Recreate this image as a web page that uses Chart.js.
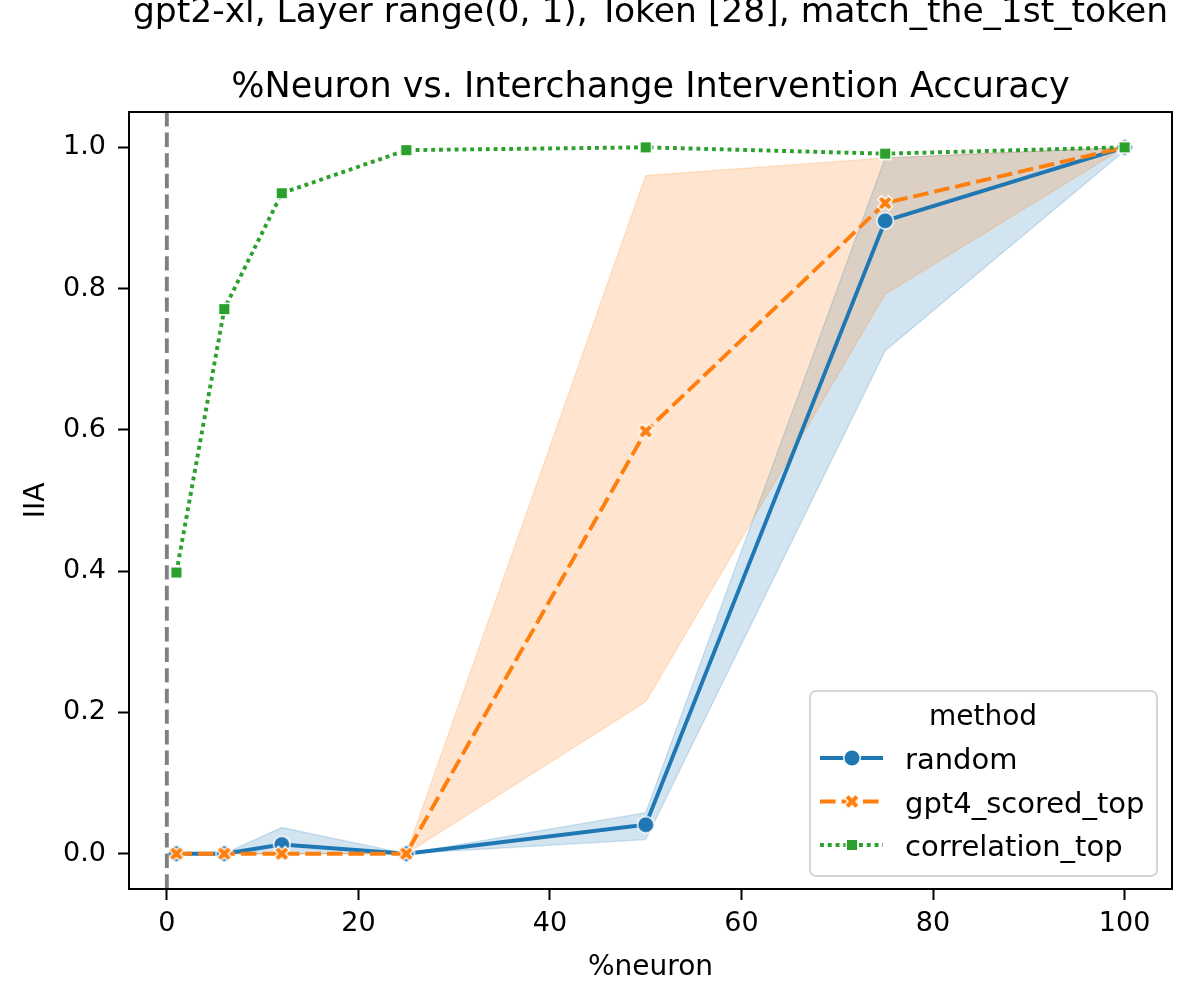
<!DOCTYPE html>
<html>
<head>
<meta charset="utf-8">
<script src="https://cdn.jsdelivr.net/npm/chart.js@4.4.1/dist/chart.umd.min.js"></script>
<style>
html, body { margin: 0; padding: 0; background: #fff; }
canvas { display: block; }
</style>
</head>
<body>
<canvas id="myChart" width="1196" height="1001"></canvas>
<script>
// Texts
let suptitle = "gpt2-xl, Layer range(0, 1), Token [28], match_the_1st_token";
let title = "%Neuron vs. Interchange Intervention Accuracy";
let xLabel = "%neuron";
let yLabel = "IIA";
let legendTitle = "method";

// Data
let neuronPct = [1, 6, 12, 25, 50, 75, 100];
let xTicks = [0, 20, 40, 60, 80, 100];
let yTicks = [0, 0.2, 0.4, 0.6, 0.8, 1.0];
let refLineX = 0;

let randomIIA  = [0, 0, 0.013, 0, 0.041, 0.896, 1.0];
let randomLow  = [0, 0, 0,     0, 0.020, 0.712, 0.995];
let randomHigh = [0, 0, 0.037, 0, 0.058, 0.985, 1.0];

let gpt4IIA  = [0, 0, 0, 0, 0.598, 0.921, 1.0];
let gpt4Low  = [0, 0, 0, 0, 0.215, 0.792, 1.0];
let gpt4High = [0, 0, 0, 0, 0.960, 0.985, 1.0];

let corrIIA = [0.398, 0.771, 0.935, 0.996, 1.0, 0.991, 1.0];

let methods = ["random", "gpt4_scored_top", "correlation_top"];

// matplotlib tab10 colours
let blue = "#1f77b4", orange = "#ff7f0e", green = "#2ca02c";

function pts(ys) {
    return neuronPct.map((x, i) => ({x: x, y: ys[i]}));
}

// seaborn style markers (white edge)
function markerPath(g, kind) {
    g.beginPath();
    if (kind === "circle") {
        g.arc(0, 0, 8.3, 0, Math.PI * 2);
    } else if (kind === "square") {
        g.rect(-5.8, -5.8, 11.6, 11.6);
    } else {
        let a = 7.6, w = 2.8;
        let p = [[-w,-a],[w,-a],[w,-w],[a,-w],[a,w],[w,w],[w,a],[-w,a],[-w,w],[-a,w],[-a,-w],[-w,-w]];
        let c = Math.SQRT1_2;
        p.forEach((q, i) => {
            let x = (q[0] - q[1]) * c, y = (q[0] + q[1]) * c;
            if (i === 0) g.moveTo(x, y); else g.lineTo(x, y);
        });
    }
    g.closePath();
}

function makeMarker(kind, color) {
    let c = document.createElement("canvas");
    c.width = 22; c.height = 22;
    let g = c.getContext("2d");
    g.translate(11, 11);
    markerPath(g, kind);
    g.fillStyle = color;
    g.fill();
    g.strokeStyle = "#fff";
    g.lineWidth = 1.4;
    g.stroke();
    return c;
}

let mkRandom = makeMarker("circle", blue);
let mkGpt4 = makeMarker("x", orange);
let mkCorr = makeMarker("square", green);

let lineStyles = [
    {color: blue, dash: [], marker: mkRandom},
    {color: orange, dash: [15.6, 5.9], marker: mkGpt4},
    {color: green, dash: [3.9, 3.9], marker: mkCorr}
];

function lineSet(label, ys, st, order) {
    return {
        label: label,
        data: pts(ys),
        borderColor: st.color,
        backgroundColor: st.color,
        borderWidth: 3.9,
        borderDash: st.dash,
        borderCapStyle: "butt",
        pointStyle: st.marker,
        pointRadius: 8,
        pointHoverRadius: 8,
        fill: false,
        tension: 0,
        order: order
    };
}

function bandSet(ys, rgba, fillTarget, order) {
    return {
        label: "",
        data: pts(ys),
        borderColor: rgba,
        borderWidth: 1.3,
        backgroundColor: rgba,
        pointRadius: 0,
        pointHoverRadius: 0,
        fill: fillTarget,
        tension: 0,
        order: order
    };
}

let FONT = "'DejaVu Sans', sans-serif";

let decorPlugin = {
    id: "decor",
    afterDatasetsDraw(chart) {
        let ctx = chart.ctx, a = chart.chartArea;
        let xs = chart.scales.x;
        // vertical reference line
        ctx.save();
        ctx.beginPath();
        ctx.rect(a.left, a.top, a.right - a.left, a.bottom - a.top);
        ctx.clip();
        let vx = xs.getPixelForValue(refLineX);
        ctx.strokeStyle = "#808080";
        ctx.lineWidth = 3.9;
        ctx.setLineDash([14.4, 6.2]);
        ctx.beginPath();
        ctx.moveTo(vx, a.top);
        ctx.lineTo(vx, a.bottom);
        ctx.stroke();
        ctx.restore();

        // frame
        ctx.save();
        ctx.strokeStyle = "#000";
        ctx.lineWidth = 2;
        ctx.strokeRect(a.left, a.top, a.right - a.left, a.bottom - a.top);
        ctx.restore();
    },
    afterDraw(chart) {
        let ctx = chart.ctx, a = chart.chartArea;
        let cx = (a.left + a.right) / 2;
        ctx.save();
        ctx.fillStyle = "#000";
        ctx.textAlign = "center";
        ctx.textBaseline = "alphabetic";
        ctx.font = "34.5px " + FONT;
        ctx.fillText(suptitle, cx, 22);
        ctx.font = "35px " + FONT;
        ctx.fillText(title, cx, 97);
        ctx.font = "28px " + FONT;
        ctx.fillText(xLabel, cx, 975);
        ctx.save();
        ctx.translate(44, (a.top + a.bottom) / 2);
        ctx.rotate(-Math.PI / 2);
        ctx.fillText(yLabel, 0, 0);
        ctx.restore();

        // legend
        let lw = 347, lh = 185;
        let lx = a.right - 15 - lw, ly = a.bottom - 13 - lh;
        ctx.beginPath();
        ctx.roundRect(lx, ly, lw, lh, 6);
        ctx.fillStyle = "rgba(255,255,255,0.8)";
        ctx.fill();
        ctx.strokeStyle = "#d6d6d6";
        ctx.lineWidth = 2;
        ctx.stroke();

        ctx.fillStyle = "#000";
        ctx.font = "28px " + FONT;
        ctx.textAlign = "center";
        ctx.fillText(legendTitle, lx + 173, ly + 34);
        ctx.textAlign = "left";
        ctx.font = "29px " + FONT;
        methods.forEach((m, i) => {
            let st = lineStyles[i];
            let ry = ly + 67 + i * 43.5;
            ctx.save();
            ctx.strokeStyle = st.color;
            ctx.lineWidth = 3.9;
            ctx.lineCap = "butt";
            ctx.setLineDash(st.dash);
            ctx.beginPath();
            ctx.moveTo(lx + 10, ry);
            ctx.lineTo(lx + 73, ry);
            ctx.stroke();
            ctx.restore();
            ctx.drawImage(st.marker, lx + 42 - 11, ry - 11);
            ctx.fillStyle = "#000";
            ctx.fillText(m, lx + 95, ry + 11);
        });
        ctx.restore();
    }
};

Chart.defaults.font.family = FONT;
Chart.defaults.color = "#000";

let ctx = document.getElementById("myChart").getContext("2d");
let myChart = new Chart(ctx, {
    type: "line",
    data: {
        datasets: [
            lineSet(methods[2], corrIIA, lineStyles[2], 1),
            lineSet(methods[1], gpt4IIA, lineStyles[1], 2),
            lineSet(methods[0], randomIIA, lineStyles[0], 3),
            bandSet(gpt4Low, "rgba(255,127,14,0.2)", false, 4),
            bandSet(gpt4High, "rgba(255,127,14,0.2)", {target: 3}, 4),
            bandSet(randomLow, "rgba(31,119,180,0.2)", false, 5),
            bandSet(randomHigh, "rgba(31,119,180,0.2)", {target: 5}, 5)
        ]
    },
    options: {
        responsive: false,
        animation: false,
        events: [],
        layout: {padding: {left: 0, right: 24, top: 112, bottom: 0}},
        scales: {
            x: {
                type: "linear",
                min: -3.95,
                max: 104.95,
                afterBuildTicks: (axis) => { axis.ticks = xTicks.map(v => ({value: v})); },
                afterFit: (axis) => { axis.height = 112; },
                ticks: {
                    callback: (v) => String(v),
                    font: {size: 27, lineHeight: 1.2},
                    padding: 8,
                    maxRotation: 0,
                    autoSkip: false
                },
                grid: {
                    drawOnChartArea: false,
                    drawTicks: true,
                    tickLength: 11,
                    tickColor: "#000",
                    tickWidth: 2
                },
                border: {display: false}
            },
            y: {
                type: "linear",
                min: -0.05,
                max: 1.05,
                afterBuildTicks: (axis) => { axis.ticks = yTicks.map(v => ({value: v})); },
                afterFit: (axis) => { axis.width = 129; },
                ticks: {
                    callback: (v) => v.toFixed(1),
                    font: {size: 27, lineHeight: 1.2},
                    padding: 12,
                    autoSkip: false
                },
                grid: {
                    drawOnChartArea: false,
                    drawTicks: true,
                    tickLength: 11,
                    tickColor: "#000",
                    tickWidth: 2
                },
                border: {display: false}
            }
        },
        plugins: {
            legend: {display: false},
            tooltip: {enabled: false},
            title: {display: false},
            filler: {drawTime: "beforeDatasetsDraw"}
        }
    },
    plugins: [decorPlugin]
});
</script>
</body>
</html>
